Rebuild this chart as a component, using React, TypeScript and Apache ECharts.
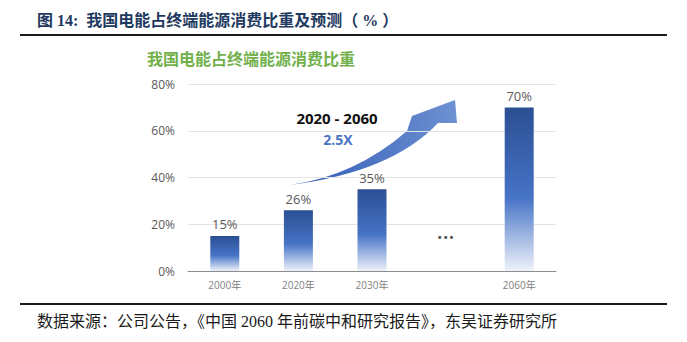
import React, { useEffect, useRef } from "react";
import * as echarts from "echarts";

const categories = ["2000年", "2020年", "2030年", "", "2060年"];
const shareValues = [15, 26, 35, null, 70];
const ellipsisLevel = [null, null, null, 14.5, null];
const yTicks = { min: 0, max: 80, interval: 20 };

const figureTitle = "图 14:  我国电能占终端能源消费比重及预测（ % ）";
const chartTitle = "我国电能占终端能源消费比重";
const arrowLabel = "2020 - 2060";
const arrowMultiple = "2.5X";
const sourceNote = "数据来源：公司公告，《中国 2060 年前碳中和研究报告》，东吴证券研究所";

const arrowPath =
  "M290,185 Q355,176 407,131 L412,116 L455,100 L457,123 L438,123 Q392,172 290,185 Z";

echarts.graphic.registerShape("growthArrow", echarts.graphic.extendPath(arrowPath, {}));

export default function App() {
  const ref = useRef<HTMLDivElement>(null);

  useEffect(() => {
    if (!ref.current) return;
    const chart = echarts.init(ref.current, null, { renderer: "svg" });
    const serif = "'Liberation Serif', 'Noto Sans CJK SC', serif";
    const sans = "'Open Sans', 'Noto Sans CJK SC', sans-serif";
    chart.setOption({
      animation: false,
      backgroundColor: "#ffffff",
      grid: { left: 188, right: 131, top: 84, bottom: 71, containLabel: false },
      xAxis: {
        type: "category",
        data: categories,
        axisTick: { show: false },
        axisLine: { lineStyle: { color: "#8c8c8c", width: 1 } },
        axisLabel: { color: "#7f7f7f", fontSize: 10, margin: 9, fontFamily: sans },
      },
      yAxis: {
        type: "value",
        min: yTicks.min,
        max: yTicks.max,
        interval: yTicks.interval,
        axisLine: { show: false },
        axisTick: { show: false },
        axisLabel: { formatter: "{value}%", color: "#595959", fontSize: 12, margin: 13, fontFamily: sans },
        splitLine: { lineStyle: { color: "#e3e3e3", width: 1 } },
      },
      series: [
        {
          type: "bar",
          data: shareValues,
          barWidth: 29,
          itemStyle: {
            color: new echarts.graphic.LinearGradient(0, 0, 0, 1, [
              { offset: 0, color: "#2b4f93" },
              { offset: 0.55, color: "#4673c6" },
              { offset: 1, color: "#eef2fa" },
            ]),
          },
          label: {
            show: true,
            position: "top",
            distance: 5,
            formatter: "{c}%",
            color: "#595959",
            fontSize: 13,
            fontFamily: sans,
          },
        },
        {
          type: "scatter",
          data: ellipsisLevel,
          symbolSize: 0,
          silent: true,
          label: {
            show: true,
            position: "inside",
            formatter: "•••",
            color: "#111111",
            fontSize: 10,
            fontFamily: "'DejaVu Sans', sans-serif",
          },
        },
      ],
      graphic: [
        {
          type: "text",
          x: 37,
          y: 20,
          style: {
            text: figureTitle,
            fill: "#1f3a60",
            fontSize: 16,
            fontWeight: "bold",
            fontFamily: serif,
            align: "left",
            verticalAlign: "middle",
            textAlign: "left",
            textVerticalAlign: "middle",
          },
        },
        {
          type: "line",
          shape: { x1: 20, y1: 35, x2: 667, y2: 35 },
          style: { stroke: "#1a1a1a", lineWidth: 2 },
        },
        {
          type: "text",
          x: 147,
          y: 58,
          style: {
            text: chartTitle,
            fill: "#72b04c",
            fontSize: 16,
            fontWeight: "bold",
            fontFamily: "'Noto Sans CJK SC', sans-serif",
            align: "left",
            verticalAlign: "middle",
            textAlign: "left",
            textVerticalAlign: "middle",
          },
        },
        {
          type: "growthArrow",
          x: 0,
          y: 0,
          style: {
            fill: new echarts.graphic.LinearGradient(0, 0, 1, 0, [
              { offset: 0, color: "#2f5bb6" },
              { offset: 1, color: "#6e91d2" },
            ]),
          },
        },
        {
          type: "text",
          x: 337,
          y: 118,
          style: {
            text: arrowLabel,
            fill: "#111111",
            fontSize: 15,
            fontWeight: "bold",
            fontFamily: sans,
            align: "center",
            verticalAlign: "middle",
            textAlign: "center",
            textVerticalAlign: "middle",
          },
        },
        {
          type: "text",
          x: 338,
          y: 139,
          style: {
            text: arrowMultiple,
            fill: "#4a74c4",
            fontSize: 14,
            fontWeight: "bold",
            fontFamily: sans,
            align: "center",
            verticalAlign: "middle",
            textAlign: "center",
            textVerticalAlign: "middle",
          },
        },
        {
          type: "line",
          shape: { x1: 20, y1: 304, x2: 667, y2: 304 },
          style: { stroke: "#1a1a1a", lineWidth: 2 },
        },
        {
          type: "text",
          x: 37,
          y: 321,
          style: {
            text: sourceNote,
            fill: "#1a1a1a",
            fontSize: 16,
            fontFamily: serif,
            align: "left",
            verticalAlign: "middle",
            textAlign: "left",
            textVerticalAlign: "middle",
          },
        },
      ],
    });
    return () => chart.dispose();
  }, []);

  return (
    <div
      ref={ref}
      style={{ position: "absolute", left: 0, top: 0, width: 687, height: 342 }}
    />
  );
}
